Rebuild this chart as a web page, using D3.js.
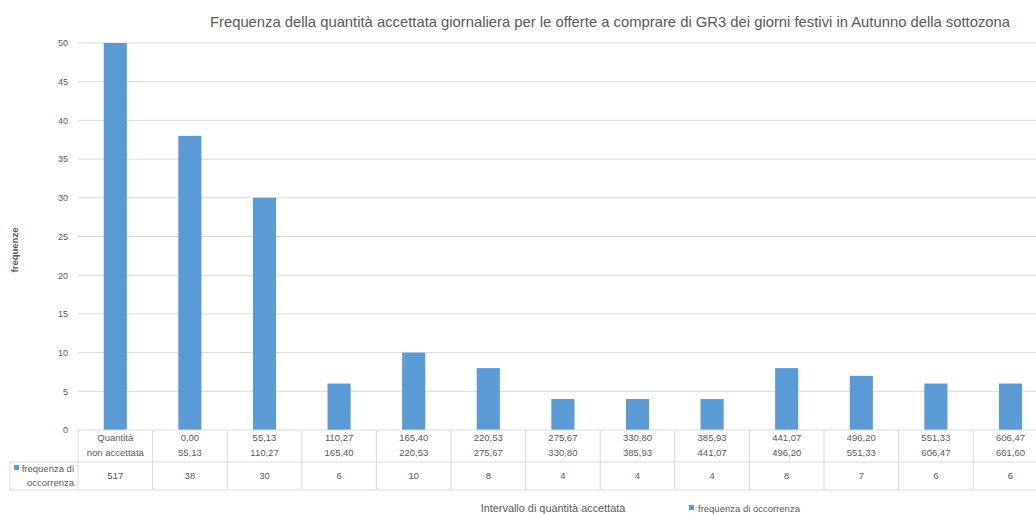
<!DOCTYPE html>
<html>
<head>
<meta charset="utf-8">
<script src="https://cdn.jsdelivr.net/npm/d3@7"></script>
<style>
  body { margin: 0; background: #fff; }
  svg { display: block; font-family: "Liberation Sans", Arial, sans-serif; }
  .tick text { fill: #595959; font-size: 9px; }
  .cell { fill: #595959; font-size: 9.5px; }
</style>
</head>
<body>
<div id="chart"></div>
<script>
// data
const rangeFrom = ["Quantità", "0,00", "55,13", "110,27", "165,40", "220,53", "275,67",
                   "330,80", "385,93", "441,07", "496,20", "551,33", "606,47"]
const rangeTo = ["non accettata", "55,13", "110,27", "165,40", "220,53", "275,67", "330,80",
                 "385,93", "441,07", "496,20", "551,33", "606,47", "661,60"]
const freq = [517, 38, 30, 6, 10, 8, 4, 4, 4, 8, 7, 6, 6]
const yTicks = [0, 5, 10, 15, 20, 25, 30, 35, 40, 45, 50]

const title = "Frequenza della quantità accettata giornaliera per le offerte a comprare di GR3 dei giorni festivi in Autunno della sottozona"
const seriesName = "frequenza di occorrenza"

const barColor = "#5b9bd5",
      gridColor = "#d9d9d9",
      textColor = "#595959"

const w = 1036, h = 514
const margin = {top: 43, left: 78, bottom: 430},
      step = 74.6

const svg = d3.select("#chart").append("svg")
  .attr("width", w)
  .attr("height", h)

const xScale = d3.scaleBand()
  .domain(d3.range(freq.length))
  .range([margin.left, margin.left + step * freq.length])
  .padding(0)

const yScale = d3.scaleLinear()
  .domain([0, 50])
  .range([margin.bottom, margin.top])

// title
svg.append("text")
  .attr("x", 610)
  .attr("y", 27)
  .attr("text-anchor", "middle")
  .attr("fill", textColor)
  .style("font-size", "14.8px")
  .text(title)

// gridlines
svg.append("g")
  .selectAll("line")
  .data(yTicks.slice(1))
  .join("line")
  .attr("x1", margin.left)
  .attr("x2", w)
  .attr("y1", d => yScale(d))
  .attr("y2", d => yScale(d))
  .attr("stroke", gridColor)
  .attr("stroke-width", 1)

// y axis labels
const yAxis = svg.append("g")
  .attr("transform", `translate(${margin.left - 10}, 0)`)
  .call(d3.axisLeft(yScale).tickValues(yTicks).tickSize(0).tickPadding(0))
yAxis.select(".domain").remove()

svg.append("text")
  .attr("transform", "translate(18, 250) rotate(-90)")
  .attr("text-anchor", "middle")
  .attr("fill", textColor)
  .style("font-size", "9.5px")
  .style("font-weight", "bold")
  .text("frequenze")

svg.append("clipPath")
  .attr("id", "clip")
  .append("rect")
  .attr("x", margin.left)
  .attr("y", margin.top)
  .attr("width", w - margin.left)
  .attr("height", margin.bottom - margin.top)

// bars
const barW = step * 0.31
svg.append("g")
  .attr("clip-path", "url(#clip)")
  .selectAll("rect")
  .data(freq)
  .join("rect")
  .attr("x", (d, i) => xScale(i) + xScale.bandwidth() / 2 - barW / 2)
  .attr("y", d => yScale(d))
  .attr("width", barW)
  .attr("height", d => yScale(0) - yScale(d))
  .attr("fill", barColor)

// data table under the axis
const rowTop = 430, rowMid = 462, rowBottom = 490, tableLeft = 10
const table = svg.append("g")
  .attr("stroke", gridColor)
  .attr("stroke-width", 1)

table.append("line").attr("x1", margin.left).attr("x2", w).attr("y1", rowTop).attr("y2", rowTop)
table.append("line").attr("x1", tableLeft).attr("x2", w).attr("y1", rowMid).attr("y2", rowMid)
table.append("line").attr("x1", tableLeft).attr("x2", w).attr("y1", rowBottom).attr("y2", rowBottom)
table.append("line").attr("x1", tableLeft).attr("x2", tableLeft).attr("y1", rowMid).attr("y2", rowBottom)
table.selectAll(".sep")
  .data(d3.range(freq.length))
  .join("line")
  .attr("class", "sep")
  .attr("x1", i => xScale(i))
  .attr("x2", i => xScale(i))
  .attr("y1", rowTop)
  .attr("y2", rowBottom)

const cx = i => xScale(i) + xScale.bandwidth() / 2
svg.append("g").selectAll("text")
  .data(rangeFrom)
  .join("text")
  .attr("class", "cell")
  .attr("x", (d, i) => cx(i))
  .attr("y", 441)
  .attr("text-anchor", "middle")
  .text(d => d)

svg.append("g").selectAll("text")
  .data(rangeTo)
  .join("text")
  .attr("class", "cell")
  .attr("x", (d, i) => cx(i))
  .attr("y", 456)
  .attr("text-anchor", "middle")
  .text(d => d)

svg.append("g").selectAll("text")
  .data(freq)
  .join("text")
  .attr("class", "cell")
  .attr("x", (d, i) => cx(i))
  .attr("y", 479)
  .attr("text-anchor", "middle")
  .text(d => d)

// legend key in the table
svg.append("rect")
  .attr("x", 14).attr("y", 465)
  .attr("width", 5).attr("height", 5)
  .attr("fill", barColor)
svg.append("text")
  .attr("class", "cell")
  .attr("x", 74).attr("y", 472)
  .attr("text-anchor", "end")
  .text("frequenza di")
svg.append("text")
  .attr("class", "cell")
  .attr("x", 74).attr("y", 486)
  .attr("text-anchor", "end")
  .text("occorrenza")

// x axis title
svg.append("text")
  .attr("x", 553)
  .attr("y", 512)
  .attr("text-anchor", "middle")
  .attr("fill", textColor)
  .style("font-size", "10.9px")
  .text("Intervallo di quantità accettata")

// bottom legend
svg.append("rect")
  .attr("x", 689).attr("y", 505)
  .attr("width", 5).attr("height", 5)
  .attr("fill", barColor)
svg.append("text")
  .attr("x", 698)
  .attr("y", 512)
  .attr("fill", textColor)
  .style("font-size", "9.5px")
  .text(seriesName)
</script>
</body>
</html>
